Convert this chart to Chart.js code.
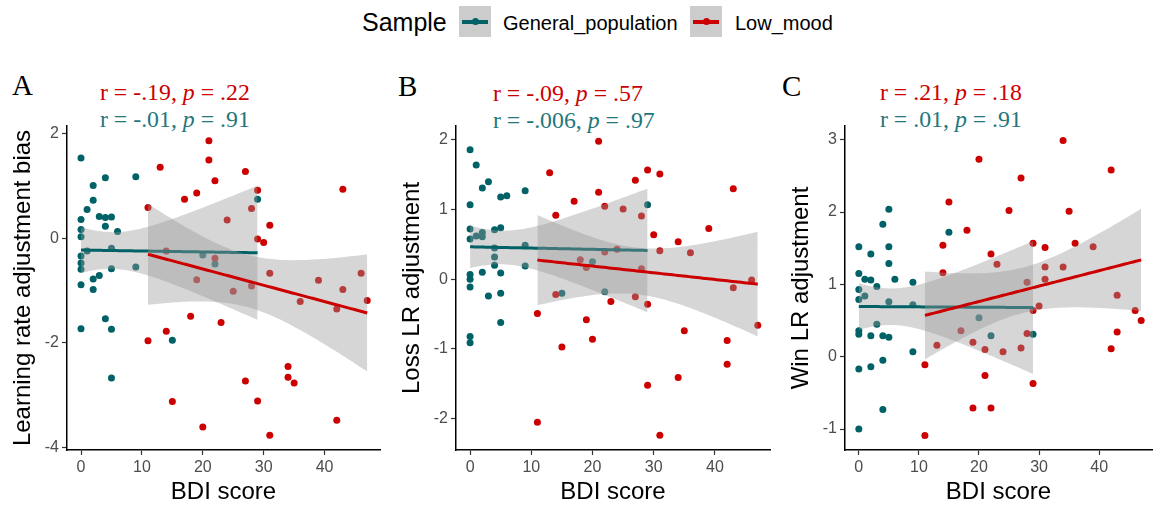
<!DOCTYPE html>
<html>
<head>
<meta charset="utf-8">
<script src="https://cdn.jsdelivr.net/npm/chart.js@4.4.0/dist/chart.umd.min.js"></script>
<style>
  html, body { margin: 0; padding: 0; background: #fff; }
  body { width: 1156px; height: 506px; position: relative; overflow: hidden; font-family: 'Liberation Sans', Arial, sans-serif; }
  canvas { position: absolute; top: 0; }
  .abs { position: absolute; white-space: nowrap; }
  .tag { font-family: 'Liberation Serif', 'Times New Roman', serif; font-size: 29px; line-height: 29px; color: #000; }
  .stat { font-family: 'Liberation Serif', 'Times New Roman', serif; font-size: 23.8px; line-height: 24px; }
  .key { position: absolute; top: 6px; width: 32px; height: 31px; background: #cccccc; }
  .key .ln { position: absolute; left: 3px; top: 14px; width: 26px; height: 3.5px; }
  .key .dt { position: absolute; left: 12.5px; top: 12px; width: 7px; height: 7px; border-radius: 50%; }
</style>
</head>
<body>

<!-- legende en haut -->
<div class="abs" style="left:362px; top:10px; font-size:25px; line-height:25px;">Sample</div>
<div class="key" style="left:459px;"><div class="ln" style="background:#006266"></div><div class="dt" style="background:#006266"></div></div>
<div class="abs" style="left:503px; top:13px; font-size:20px; line-height:20px;">General_population</div>
<div class="key" style="left:690px;"><div class="ln" style="background:#cc0000"></div><div class="dt" style="background:#cc0000"></div></div>
<div class="abs" style="left:735px; top:13px; font-size:20px; line-height:20px;">Low_mood</div>

<!-- lettres et stats -->
<div class="abs tag" style="left:12px; top:71px;">A</div>
<div class="abs stat" style="left:100px; top:80px; color:#cc0000;">r = -.19, <i>p</i> = .22</div>
<div class="abs stat" style="left:100px; top:107px; color:#24777a;">r = -.01, <i>p</i> = .91</div>

<div class="abs tag" style="left:398px; top:72px;">B</div>
<div class="abs stat" style="left:493px; top:81px; color:#cc0000;">r = -.09, <i>p</i> = .57</div>
<div class="abs stat" style="left:493px; top:108px; color:#24777a;">r = -.006, <i>p</i> = .97</div>

<div class="abs tag" style="left:782px; top:72px;">C</div>
<div class="abs stat" style="left:880px; top:80px; color:#cc0000;">r = .21, <i>p</i> = .18</div>
<div class="abs stat" style="left:880px; top:107px; color:#24777a;">r = .01, <i>p</i> = .91</div>

<canvas id="chartA" width="388" height="506" style="left:0px"></canvas>
<canvas id="chartB" width="389" height="506" style="left:389px"></canvas>
<canvas id="chartC" width="378" height="506" style="left:778px"></canvas>

<script>
// --- donnees : [score BDI, valeur] ---

// A : Learning rate adjustment bias
const lrBiasGeneral = [
  [0,1.54],[2,1.01],[4,1.16],[9,1.18],[2,0.73],[1,0.55],[0,0.36],[3,0.42],[4,0.40],[5,0.41],
  [4,0.23],[6,0.13],[0,0.17],[0,0.03],[1,-0.24],[5,-0.19],[0,-0.34],[0,-0.47],[0,-0.59],[5,-0.58],
  [9,-0.55],[3,-0.71],[2,-0.78],[0,-0.89],[2,-0.98],[4,-1.54],[0,-1.73],[5,-1.74],[15,-1.95],[5,-2.67],
  [29,0.75],[20,-0.32],[22,-0.49]
];
const lrBiasLowMood = [
  [21,1.87],[21,1.50],[13,1.36],[22,1.10],[19,0.87],[17,0.75],[11,0.59],[14,-0.24],[22,-0.38],[19,-0.79],
  [18,-1.49],[23,-1.61],[14,-1.78],[11,-1.96],[15,-3.12],[20,-3.61],[27,1.28],[29,0.92],[43,0.94],[28,0.57],
  [24,0.35],[31,0.25],[29,-0.01],[30,-0.08],[31,-0.67],[39,-0.80],[43,-0.98],[46,-0.67],[47,-1.19],[25,-1.01],
  [28,-0.91],[36,-1.21],[42,-1.35],[34,-2.45],[34,-2.66],[35,-2.77],[27,-2.73],[29,-3.11],[42,-3.48],[31,-3.77]
];

// B : Loss LR adjustment
const lossGeneral = [
  [0,1.86],[1,1.64],[3,1.40],[2,1.31],[9,1.27],[5,1.18],[6,1.20],[0,1.07],[0,0.72],[0,0.58],
  [1,0.62],[2,0.67],[2,0.61],[4,0.71],[5,0.74],[4,0.45],[9,0.49],[4,0.32],[4,0.20],[9,0.19],
  [2,0.10],[5,0.09],[0,0.07],[0,0.0],[0,-0.11],[3,-0.24],[5,-0.20],[5,-0.62],[0,-0.82],[0,-0.91],
  [15,-0.20],[20,0.25],[22,-0.18],[29,1.07]
];
const lossLowMood = [
  [21,1.98],[13,1.53],[21,1.25],[17,1.12],[22,1.05],[14,0.92],[22,0.39],[18,0.28],[19,0.17],[14,-0.22],
  [23,-0.32],[11,-0.49],[19,-0.58],[20,-0.86],[15,-0.97],[11,-2.05],[29,1.57],[31,1.51],[27,1.42],[43,1.30],
  [25,1.01],[28,0.91],[30,0.64],[34,0.54],[39,0.73],[24,0.43],[31,0.41],[36,0.38],[28,0.15],[46,-0.01],
  [43,-0.12],[27,-0.25],[29,-0.36],[47,-0.66],[35,-0.74],[42,-0.88],[42,-1.22],[34,-1.41],[29,-1.52],[31,-2.24]
];

// C : Win LR adjustment
const winGeneral = [
  [5,2.04],[4,1.83],[15,1.72],[0,1.52],[5,1.52],[2,1.42],[5,1.29],[0,1.15],[1,1.07],[2,1.06],
  [6,1.07],[9,1.03],[3,0.97],[0,0.93],[0,0.79],[1,0.84],[5,0.76],[9,0.72],[3,0.45],[0,0.36],
  [0,0.31],[2,0.29],[4,0.29],[5,0.27],[9,0.07],[4,-0.05],[2,-0.14],[0,-0.17],[4,-0.73],[0,-1.00],
  [20,0.54],[22,0.29],[29,0.31]
];
const winLowMood = [
  [20,2.73],[15,2.14],[18,1.75],[14,1.54],[22,1.42],[23,1.28],[14,1.16],[17,0.36],[13,0.16],[19,0.20],
  [21,0.10],[11,-0.11],[21,-0.26],[19,-0.71],[22,-0.71],[11,-1.09],[34,2.99],[27,2.47],[42,2.58],[25,2.02],
  [35,2.01],[29,1.57],[31,1.51],[36,1.57],[39,1.52],[31,1.24],[34,1.24],[31,1.07],[28,1.03],[43,0.85],
  [30,0.70],[29,0.64],[46,0.64],[47,0.50],[43,0.34],[42,0.11],[28,0.32],[27,0.12],[24,0.07],[29,-0.37]
];

// graduations
const xTicks = [0, 10, 20, 30, 40];
const yTicksA = [-4, -2, 0, 2];
const yTicksB = [-2, -1, 0, 1, 2];
const yTicksC = [-1, 0, 1, 2, 3];

const TEAL = '#006266';
const RED = '#cc0000';
const BAND = 'rgba(153,153,153,0.4)';

Chart.defaults.font.family = "'Liberation Sans', Arial, sans-serif";
Chart.defaults.animation = false;

// regression lineaire + intervalle de confiance 95% (comme geom_smooth(method = lm))
function fitLm(pts) {
  const n = pts.length;
  const mx = pts.reduce((s, p) => s + p[0], 0) / n;
  const my = pts.reduce((s, p) => s + p[1], 0) / n;
  let sxx = 0, sxy = 0;
  pts.forEach(p => { sxx += (p[0] - mx) ** 2; sxy += (p[0] - mx) * (p[1] - my); });
  const b = sxy / sxx;
  const a = my - b * mx;
  let sse = 0;
  pts.forEach(p => { sse += (p[1] - a - b * p[0]) ** 2; });
  const s = Math.sqrt(sse / (n - 2));
  const t = 1.96 + 2.4 / (n - 2);
  const xs = pts.map(p => p[0]);
  const lo = Math.min(...xs), hi = Math.max(...xs);
  const line = [], upper = [], lower = [];
  for (let i = 0; i <= 80; i++) {
    const x = lo + (hi - lo) * i / 80;
    const yh = a + b * x;
    const se = s * Math.sqrt(1 / n + (x - mx) ** 2 / sxx);
    line.push({ x: x, y: yh });
    upper.push({ x: x, y: yh + t * se });
    lower.push({ x: x, y: yh - t * se });
  }
  return { line, upper, lower };
}

function toXY(pts) { return pts.map(p => ({ x: p[0], y: p[1] })); }

function makePanel(id, general, lowMood, yTitle, yTicks, xMin, xMax, yMin, yMax, rightPad) {
  const g = fitLm(general);
  const l = fitLm(lowMood);
  const tickFont = { size: 16 };
  new Chart(document.getElementById(id), {
    type: 'scatter',
    data: {
      datasets: [
        { data: toXY(general), backgroundColor: TEAL, pointRadius: 3.5, borderWidth: 0, order: 10 },
        { data: toXY(lowMood), backgroundColor: RED, pointRadius: 3.5, borderWidth: 0, order: 9 },
        // bande generale (index 2 -> remplie jusqu'a 3)
        { data: g.upper, showLine: true, pointRadius: 0, borderWidth: 0, fill: '+1', backgroundColor: BAND, order: 8 },
        { data: g.lower, showLine: true, pointRadius: 0, borderWidth: 0, fill: false, order: 8 },
        { data: g.line, showLine: true, pointRadius: 0, borderWidth: 3, borderColor: TEAL, order: 7 },
        // bande low mood
        { data: l.upper, showLine: true, pointRadius: 0, borderWidth: 0, fill: '+1', backgroundColor: BAND, order: 6 },
        { data: l.lower, showLine: true, pointRadius: 0, borderWidth: 0, fill: false, order: 6 },
        { data: l.line, showLine: true, pointRadius: 0, borderWidth: 3, borderColor: RED, order: 5 }
      ]
    },
    options: {
      responsive: false,
      layout: { padding: { top: 126, right: rightPad, left: 0, bottom: 0 } },
      plugins: { legend: { display: false }, tooltip: { enabled: false } },
      scales: {
        x: {
          type: 'linear', min: xMin, max: xMax,
          afterFit: s => { s.height = 56; },
          afterBuildTicks: s => { s.ticks = xTicks.map(v => ({ value: v })); },
          grid: { drawOnChartArea: false, drawTicks: true, tickLength: 5, tickColor: '#333', tickWidth: 1.2 },
          border: { display: true, color: '#000', width: 1.5 },
          ticks: { color: '#4d4d4d', font: tickFont, padding: 3, maxRotation: 0 },
          title: { display: true, text: 'BDI score', color: '#000', font: { size: 24, lineHeight: 1.1 }, padding: { top: 0, bottom: 0 } }
        },
        y: {
          type: 'linear', min: yMin, max: yMax,
          afterFit: s => { s.width = 67; },
          afterBuildTicks: s => { s.ticks = yTicks.map(v => ({ value: v })); },
          grid: { drawOnChartArea: false, drawTicks: true, tickLength: 5, tickColor: '#333', tickWidth: 1.2 },
          border: { display: true, color: '#000', width: 1.5 },
          ticks: { color: '#4d4d4d', font: tickFont, padding: 3 },
          title: { display: true, text: yTitle, color: '#000', font: { size: 24 }, padding: { top: 9, bottom: 0 } }
        }
      }
    }
  });
}

makePanel('chartA', lrBiasGeneral, lrBiasLowMood, 'Learning rate adjustment bias', yTicksA, -2.3, 49.1, -4.05, 2.15, 8);
makePanel('chartB', lossGeneral, lossLowMood, 'Loss LR adjustment', yTicksB, -2.3, 49.0, -2.45, 2.2, 8);
makePanel('chartC', winGeneral, winLowMood, 'Win LR adjustment', yTicksC, -2.3, 48.8, -1.29, 3.19, 0);
</script>
</body>
</html>
